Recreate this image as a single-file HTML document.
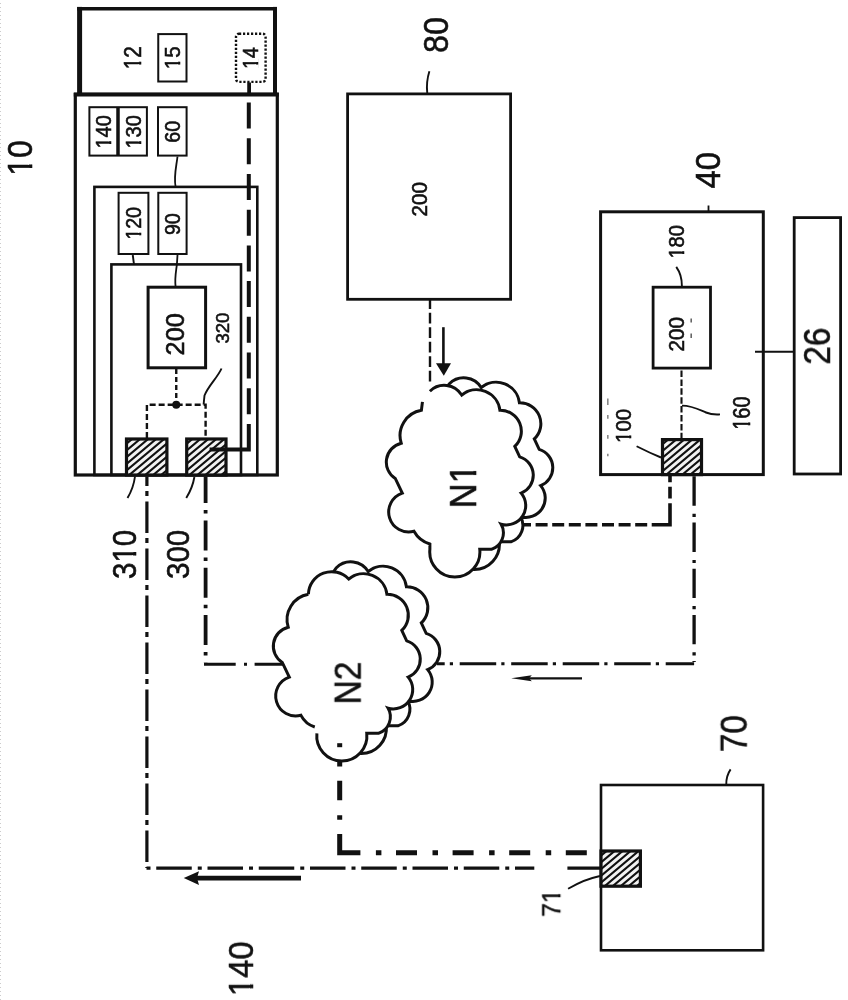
<!DOCTYPE html>
<html><head><meta charset="utf-8"><title>Diagram</title>
<style>html,body{margin:0;padding:0;background:#fff;width:848px;height:1000px;overflow:hidden}svg{display:block}</style>
</head><body>
<svg width="848" height="1000" viewBox="0 0 848 1000">
<rect width="848" height="1000" fill="#fff"/>
<line x1="0.5" y1="0" x2="0.5" y2="1000" stroke="#ccc" stroke-width="1" stroke-dasharray="1 3" stroke-dashoffset="-3"/>
<path d="M79.6 6.9V94.4" fill="none" stroke="#111" stroke-width="5" />
<path d="M77.2 8.75H277" fill="none" stroke="#111" stroke-width="3.7" />
<path d="M275 6.9V94.4" fill="none" stroke="#111" stroke-width="4" />
<rect x="75.3" y="94.4" width="202.00" height="380.60" fill="none" stroke="#111" stroke-width="3.2" />
<path d="M73.8 94.4H278.8" fill="none" stroke="#111" stroke-width="4" />
<rect x="158.25" y="34.1" width="28.25" height="47.40" fill="none" stroke="#111" stroke-width="2" />
<rect x="236" y="33.75" width="29.6" height="48.15" rx="3" fill="none" stroke="#111" stroke-width="2.4" stroke-dasharray="2.2 1.8"/>
<path d="M249.1 82.5V94.4" fill="none" stroke="#111" stroke-width="3.75" />
<rect x="89.4" y="107.2" width="57.50" height="48.40" fill="none" stroke="#111" stroke-width="2" />
<path d="M118 107.2V155.6" fill="none" stroke="#111" stroke-width="3.5" />
<rect x="158" y="107.2" width="28.60" height="48.40" fill="none" stroke="#111" stroke-width="2" />
<rect x="94.4" y="186.9" width="162.90" height="288.10" fill="none" stroke="#111" stroke-width="2.6" />
<rect x="111.4" y="264.4" width="129.60" height="210.60" fill="none" stroke="#111" stroke-width="2.6" />
<rect x="118.6" y="192.8" width="29.80" height="61.20" fill="none" stroke="#111" stroke-width="2" />
<rect x="158.3" y="192.8" width="28.30" height="61.20" fill="none" stroke="#111" stroke-width="2" />
<path d="M177.5 156.5C176.5 166 173.5 176 175.6 186.9" fill="none" stroke="#111" stroke-width="1.8" />
<path d="M132.75 255L134 264.4" fill="none" stroke="#111" stroke-width="1.9" />
<path d="M177.5 255L176.9 264.4C176 272 174.5 278 175.6 287" fill="none" stroke="#111" stroke-width="1.8" />
<rect x="148.1" y="287.2" width="57.50" height="80.60" fill="none" stroke="#111" stroke-width="3" />
<path d="M176.25 369V404" fill="none" stroke="#111" stroke-width="2.4" stroke-dasharray="5 3"/>
<circle cx="176.25" cy="404.75" r="4" fill="#111"/>
<path d="M146.9 438V404.75H205.6V438" fill="none" stroke="#111" stroke-width="2.4" stroke-dasharray="6 3"/>
<path d="M221.5 368.5C218 377 208 386 204.5 395.5L203.6 404.5" fill="none" stroke="#111" stroke-width="1.9" />
<clipPath id="c126_439"><rect x="126.5" y="439" width="40.400000000000006" height="36"/></clipPath>
<rect x="126.5" y="439" width="40.400000000000006" height="36" fill="#f2f2f2"/>
<path clip-path="url(#c126_439)" d="M78.83 477.00L126.50 437.00M86.83 477.00L134.50 437.00M94.83 477.00L142.50 437.00M102.83 477.00L150.50 437.00M110.83 477.00L158.50 437.00M118.83 477.00L166.50 437.00M126.83 477.00L174.50 437.00M134.83 477.00L182.50 437.00M142.83 477.00L190.50 437.00M150.83 477.00L198.50 437.00M158.83 477.00L206.50 437.00M166.83 477.00L214.50 437.00" stroke="#111" stroke-width="2.1"/>
<rect x="126.5" y="439" width="40.40" height="36.00" fill="none" stroke="#111" stroke-width="3.2" />
<clipPath id="c186_439"><rect x="186.7" y="439" width="39.30000000000001" height="36"/></clipPath>
<rect x="186.7" y="439" width="39.30000000000001" height="36" fill="#f2f2f2"/>
<path clip-path="url(#c186_439)" d="M139.03 477.00L186.70 437.00M147.03 477.00L194.70 437.00M155.03 477.00L202.70 437.00M163.03 477.00L210.70 437.00M171.03 477.00L218.70 437.00M179.03 477.00L226.70 437.00M187.03 477.00L234.70 437.00M195.03 477.00L242.70 437.00M203.03 477.00L250.70 437.00M211.03 477.00L258.70 437.00M219.03 477.00L266.70 437.00M227.03 477.00L274.70 437.00" stroke="#111" stroke-width="2.1"/>
<rect x="186.7" y="439" width="39.30" height="36.00" fill="none" stroke="#111" stroke-width="3.2" />
<path d="M248.8 102.5V424" fill="none" stroke="#111" stroke-width="4" stroke-dasharray="26 9.72"/>
<path d="M248.8 424V449.6H209.6" fill="none" stroke="#111" stroke-width="4" />
<path d="M135 476.5Q133.5 488 127.5 498" fill="none" stroke="#111" stroke-width="1.9" />
<path d="M194.4 477Q192.5 488 186.25 498" fill="none" stroke="#111" stroke-width="1.9" />
<path d="M146.9 476.5V868.1" fill="none" stroke="#111" stroke-width="3.2" stroke-dasharray="31.5 5 5 5.5" stroke-dashoffset="22"/>
<path d="M145.5 868.1H534.3" fill="none" stroke="#111" stroke-width="3.3" stroke-dasharray="35.5 6 4 5.75" stroke-dashoffset="40.5"/>
<path d="M567.4 868.1H601" fill="none" stroke="#111" stroke-width="3.3" />
<path d="M205.6 476.5V662.5" fill="none" stroke="#111" stroke-width="3.8" stroke-dasharray="30 7 3.5 6.8" stroke-dashoffset="3.4"/>
<path d="M204 664.3H283.5" fill="none" stroke="#111" stroke-width="3.0" stroke-dasharray="31.7 8.3 3 7.6"/>
<path d="M694.1 476.3V662" fill="none" stroke="#111" stroke-width="3.3" stroke-dasharray="29.4 8 3.2 5.6"/>
<path d="M694.1 663.8H437" fill="none" stroke="#111" stroke-width="3.1" stroke-dasharray="36.5 6.7 3.2 5.1" stroke-dashoffset="8.1"/>
<path d="M670 476V482.3M670 486.8V498.5M670 503.3V524.7H651.7" fill="none" stroke="#111" stroke-width="3.6" />
<path d="M647.2 524.7H522" fill="none" stroke="#111" stroke-width="3.4" stroke-dasharray="12 4.6"/>
<path d="M681.5 369V438" fill="none" stroke="#111" stroke-width="2.1" stroke-dasharray="6.5 2.4" stroke-dashoffset="-1.5"/>
<g fill="#111"><rect x="337.2" y="762" width="5" height="4.5"/><rect x="337.2" y="780.75" width="5" height="19.5"/><rect x="337.2" y="815.25" width="5" height="4.5"/></g>
<path d="M339.7 834V852.75H360" fill="none" stroke="#111" stroke-width="5" />
<path d="M360 852.75H588" fill="none" stroke="#111" stroke-width="5" stroke-dasharray="21 15.5 5.5 14.6" stroke-dashoffset="20.6"/>
<rect x="347.6" y="93.9" width="163.00" height="205.40" fill="none" stroke="#111" stroke-width="2.8" />
<path d="M430 299.3V383" fill="none" stroke="#111" stroke-width="2.4" stroke-dasharray="10.8 3.7" stroke-dashoffset="1"/>
<path d="M443.4 327.2V365" fill="none" stroke="#111" stroke-width="2.6" />
<path d="M436 363.2L451 363.2L443.8 375.8Z" fill="#111"/>
<path d="M429.4 71.25Q426 82 427.25 93" fill="none" stroke="#111" stroke-width="1.9" />
<rect x="600.6" y="211.8" width="162.70" height="262.80" fill="none" stroke="#111" stroke-width="3" />
<rect x="653.1" y="287.2" width="57.40" height="80.90" fill="none" stroke="#111" stroke-width="2.8" />
<clipPath id="c662_439"><rect x="662.5" y="439.6" width="39.0" height="35.0"/></clipPath>
<rect x="662.5" y="439.6" width="39.0" height="35.0" fill="#f2f2f2"/>
<path clip-path="url(#c662_439)" d="M616.02 476.60L662.50 437.60M624.02 476.60L670.50 437.60M632.02 476.60L678.50 437.60M640.02 476.60L686.50 437.60M648.02 476.60L694.50 437.60M656.02 476.60L702.50 437.60M664.02 476.60L710.50 437.60M672.02 476.60L718.50 437.60M680.02 476.60L726.50 437.60M688.02 476.60L734.50 437.60M696.02 476.60L742.50 437.60" stroke="#111" stroke-width="2.1"/>
<rect x="662.5" y="439.6" width="39.00" height="35.00" fill="none" stroke="#111" stroke-width="3.2" />
<rect x="794.2" y="217.6" width="46.40" height="256.40" fill="none" stroke="#111" stroke-width="2.8" />
<path d="M755 351.75H794" fill="none" stroke="#111" stroke-width="1.8" />
<path d="M708.5 205.5V211" fill="none" stroke="#111" stroke-width="1.8" />
<path d="M676.25 266.9Q682 275 681.9 286" fill="none" stroke="#111" stroke-width="1.9" />
<path d="M682 405.6C692 405.6 700 410 706 412.5C712 415 716 414.5 720 414.4" fill="none" stroke="#111" stroke-width="1.9" />
<path d="M636.6 446.25Q650 453 661 457.5" fill="none" stroke="#111" stroke-width="1.9" />
<path d="M691.2 318.5V322.5M691.2 333.5V338" stroke="#666" stroke-width="1.6" fill="none"/>
<path d="M607.8 398.5V405M607.8 415V418.8M607.8 435V438.8M607.8 453.8V456.3" stroke="#888" stroke-width="1.6" fill="none"/>
<rect x="601" y="785" width="162.10" height="165.30" fill="none" stroke="#111" stroke-width="2.6" />
<clipPath id="c601_851"><rect x="601" y="851" width="39.39999999999998" height="35.200000000000045"/></clipPath>
<rect x="601" y="851" width="39.39999999999998" height="35.200000000000045" fill="#f2f2f2"/>
<path clip-path="url(#c601_851)" d="M554.28 888.20L601.00 849.00M562.28 888.20L609.00 849.00M570.28 888.20L617.00 849.00M578.28 888.20L625.00 849.00M586.28 888.20L633.00 849.00M594.28 888.20L641.00 849.00M602.28 888.20L649.00 849.00M610.28 888.20L657.00 849.00M618.28 888.20L665.00 849.00M626.28 888.20L673.00 849.00M634.28 888.20L681.00 849.00M642.28 888.20L689.00 849.00" stroke="#111" stroke-width="2.1"/>
<rect x="601" y="851" width="39.40" height="35.20" fill="none" stroke="#111" stroke-width="3.2" />
<path d="M730.6 769.4Q726 776 726.25 785" fill="none" stroke="#111" stroke-width="1.9" />
<path d="M568.1 888.75Q585 879 600 876" fill="none" stroke="#111" stroke-width="1.9" />
<path d="M197 878.1H301" fill="none" stroke="#111" stroke-width="4.8" />
<path d="M183.75 878.1L199 871.3L197 878.1L199 884.9Z" fill="#111"/>
<path d="M528 678.3H582" fill="none" stroke="#111" stroke-width="2.2" />
<path d="M511.2 678.3L531.8 675.2L529 678.3L531.8 681.2Z" fill="#111"/>
<path d="M449.38 383.73A20.42 20.42 0 0 1 481.22 387.55A23.49 23.49 0 0 1 519.43 402.83A20.89 20.89 0 0 1 534.29 438.92L539.17 449.32A19.26 19.26 0 0 1 540.66 485.62A19.31 19.31 0 0 1 520.49 516.61A17.36 17.36 0 0 1 510.94 541.87L499.27 541.87A25.07 25.07 0 1 1 449.38 541.87L449.38 536.56A26.92 26.92 0 0 1 433.46 523.82A19.98 19.98 0 0 1 421.79 485.62L414.78 470.97A19.41 19.41 0 0 1 420.73 435.73A25.65 25.65 0 0 1 440.89 402.83L441.95 394.34Z" fill="#fff" stroke="#111" stroke-width="3.0"/>
<path d="M429.88 391.23A20.42 20.42 0 0 1 461.72 395.05A23.49 23.49 0 0 1 499.93 410.33A20.89 20.89 0 0 1 514.79 446.42L519.67 456.82A19.26 19.26 0 0 1 521.16 493.12A19.31 19.31 0 0 1 500.99 524.11A17.36 17.36 0 0 1 491.44 549.37L479.77 549.37A25.07 25.07 0 1 1 429.88 549.37L429.88 544.06A26.92 26.92 0 0 1 413.96 531.32A19.98 19.98 0 0 1 402.29 493.12L395.28 478.47A19.41 19.41 0 0 1 401.23 443.23A25.65 25.65 0 0 1 421.39 410.33L422.45 401.84Z" fill="#fff" stroke="none"/>
<path d="M429.88 391.23A20.42 20.42 0 0 1 461.72 395.05A23.49 23.49 0 0 1 499.93 410.33A20.89 20.89 0 0 1 514.79 446.42L519.67 456.82A19.26 19.26 0 0 1 521.16 493.12A19.31 19.31 0 0 1 500.99 524.11A17.36 17.36 0 0 1 491.44 549.37L479.77 549.37A25.07 25.07 0 1 1 429.88 549.37L429.88 544.06A26.92 26.92 0 0 1 413.96 531.32A19.98 19.98 0 0 1 402.29 493.12L395.28 478.47A19.41 19.41 0 0 1 401.23 443.23A25.65 25.65 0 0 1 421.39 410.33L422.45 401.84" fill="none" stroke="#111" stroke-width="3.0"/>
<path d="M336.38 567.73A20.42 20.42 0 0 1 368.22 571.55A23.49 23.49 0 0 1 406.43 586.83A20.89 20.89 0 0 1 421.29 622.92L426.17 633.32A19.26 19.26 0 0 1 427.66 669.62A19.31 19.31 0 0 1 407.49 700.61A17.36 17.36 0 0 1 397.94 725.87L386.27 725.87A25.07 25.07 0 1 1 336.38 725.87L336.38 720.56A26.92 26.92 0 0 1 320.46 707.82A19.98 19.98 0 0 1 308.79 669.62L301.78 654.97A19.41 19.41 0 0 1 307.73 619.73A25.65 25.65 0 0 1 327.89 586.83L328.95 578.34Z" fill="#fff" stroke="#111" stroke-width="3.0"/>
<path d="M308.39 594.33A23.33 23.33 0 0 1 348.72 579.05A23.49 23.49 0 0 1 386.93 594.33A20.89 20.89 0 0 1 401.79 630.42L406.67 640.82A19.26 19.26 0 0 1 408.16 677.12A19.31 19.31 0 0 1 387.99 708.11A17.36 17.36 0 0 1 378.44 733.37L366.77 733.37A25.07 25.07 0 1 1 316.88 733.37L314.76 727.00A23.87 23.87 0 0 1 300.96 715.32A19.98 19.98 0 0 1 289.29 677.12L282.28 662.47A19.41 19.41 0 0 1 288.23 627.23A25.65 25.65 0 0 1 308.39 594.33Z" fill="#fff" stroke="none"/>
<path d="M308.39 594.33A23.33 23.33 0 0 1 348.72 579.05A23.49 23.49 0 0 1 386.93 594.33A20.89 20.89 0 0 1 401.79 630.42L406.67 640.82A19.26 19.26 0 0 1 408.16 677.12A19.31 19.31 0 0 1 387.99 708.11A17.36 17.36 0 0 1 378.44 733.37L366.77 733.37A25.07 25.07 0 1 1 316.88 733.37M314.76 727.00A23.87 23.87 0 0 1 300.96 715.32A19.98 19.98 0 0 1 289.29 677.12L282.28 662.47A19.41 19.41 0 0 1 288.23 627.23A25.65 25.65 0 0 1 308.39 594.33" fill="none" stroke="#111" stroke-width="3.0"/>
<g fill="#111"><rect x="337.2" y="743.2" width="5" height="4"/></g>
<defs><clipPath id="k0" clipPathUnits="userSpaceOnUse"><path clip-rule="evenodd" d="M-500 -500H3000V500H-500ZM1.393 -4.383H9.494V1.654H1.393ZM14.158 -4.383H21.947V1.654H14.158Z"/></clipPath><clipPath id="k1" clipPathUnits="userSpaceOnUse"><path clip-rule="evenodd" d="M-500 -500H3000V500H-500ZM1.052 -5.069H9.223V1.995H1.052ZM14.430 -5.069H22.288V1.995H14.430Z"/></clipPath><clipPath id="k2" clipPathUnits="userSpaceOnUse"><path clip-rule="evenodd" d="M-500 -500H3000V500H-500ZM1.006 -5.222H9.197V2.041H1.006ZM14.455 -5.222H22.334V2.041H14.455Z"/></clipPath><clipPath id="k3" clipPathUnits="userSpaceOnUse"><path clip-rule="evenodd" d="M-500 -500H3000V500H-500ZM0.991 -5.201H9.176V2.056H0.991ZM14.476 -5.201H22.349V2.056H14.476Z"/></clipPath><clipPath id="k4" clipPathUnits="userSpaceOnUse"><path clip-rule="evenodd" d="M-500 -500H3000V500H-500ZM0.997 -5.208H9.184V2.050H0.997ZM14.468 -5.208H22.343V2.050H14.468Z"/></clipPath><clipPath id="k5" clipPathUnits="userSpaceOnUse"><path clip-rule="evenodd" d="M-500 -500H3000V500H-500ZM1.018 -5.131H9.195V2.029H1.018ZM14.457 -5.131H22.322V2.029H14.457Z"/></clipPath><clipPath id="k6" clipPathUnits="userSpaceOnUse"><path clip-rule="evenodd" d="M-500 -500H3000V500H-500ZM0.994 -5.183H9.177V2.053H0.994ZM14.476 -5.183H22.346V2.053H14.476Z"/></clipPath><clipPath id="k7" clipPathUnits="userSpaceOnUse"><path clip-rule="evenodd" d="M-500 -500H3000V500H-500ZM23.587 -4.488H31.698V1.706H23.587ZM36.446 -4.488H44.245V1.706H36.446Z"/></clipPath><clipPath id="k8" clipPathUnits="userSpaceOnUse"><path clip-rule="evenodd" d="M-500 -500H3000V500H-500ZM30.319 -4.317H38.415V1.614H30.319ZM43.011 -4.317H50.794V1.614H43.011Z"/></clipPath><clipPath id="k9" clipPathUnits="userSpaceOnUse"><path clip-rule="evenodd" d="M-500 -500H3000V500H-500ZM0.988 -5.239H9.180V2.058H0.988ZM14.472 -5.239H22.351V2.058H14.472Z"/></clipPath><clipPath id="k10" clipPathUnits="userSpaceOnUse"><path clip-rule="evenodd" d="M-500 -500H3000V500H-500ZM1.026 -5.103H9.199V2.021H1.026ZM14.453 -5.103H22.314V2.021H14.453Z"/></clipPath><clipPath id="k11" clipPathUnits="userSpaceOnUse"><path clip-rule="evenodd" d="M-500 -500H3000V500H-500ZM1.016 -5.172H9.200V2.031H1.016ZM14.452 -5.172H22.324V2.031H14.452Z"/></clipPath><clipPath id="k12" clipPathUnits="userSpaceOnUse"><path clip-rule="evenodd" d="M-500 -500H3000V500H-500ZM23.425 -4.848H31.577V1.868H23.425ZM36.568 -4.848H44.407V1.868H36.568Z"/></clipPath><clipPath id="k13" clipPathUnits="userSpaceOnUse"><path clip-rule="evenodd" d="M-500 -500H3000V500H-500ZM1.404 -4.363H9.504V1.643H1.404ZM14.149 -4.363H21.936V1.643H14.149Z"/></clipPath></defs>
<g fill="#111" stroke="#111" font-family="Liberation Sans, sans-serif" style="will-change:transform">
<text transform="translate(31.78 175.70) rotate(-90) scale(0.7996 0.8845)" font-size="40.0" stroke-width="0.654" clip-path="url(#k0)">10</text>
<text transform="translate(141.03 69.23) rotate(-90) scale(0.5203 0.5872)" font-size="40.0" stroke-width="0.995" clip-path="url(#k1)">12</text>
<text transform="translate(180.16 69.21) rotate(-90) scale(0.5158 0.5410)" font-size="40.0" stroke-width="1.041" clip-path="url(#k2)">15</text>
<text transform="translate(257.62 69.12) rotate(-90) scale(0.4927 0.5505)" font-size="40.0" stroke-width="1.056" clip-path="url(#k3)">14</text>
<text transform="translate(111.16 148.55) rotate(-90) scale(0.5014 0.5473)" font-size="40.0" stroke-width="1.050" clip-path="url(#k4)">140</text>
<text transform="translate(140.80 148.55) rotate(-90) scale(0.5014 0.5703)" font-size="40.0" stroke-width="1.029" clip-path="url(#k5)">130</text>
<text transform="translate(179.91 142.63) rotate(-90) scale(0.4927 0.5385)" font-size="40.0" stroke-width="1.068">60</text>
<text transform="translate(140.81 239.76) rotate(-90) scale(0.4908 0.5561)" font-size="40.0" stroke-width="1.053" clip-path="url(#k6)">120</text>
<text transform="translate(179.91 235.05) rotate(-90) scale(0.4908 0.5473)" font-size="40.0" stroke-width="1.061">90</text>
<text transform="translate(184.47 355.40) rotate(-90) scale(0.6356 0.6656)" font-size="40.0" stroke-width="0.846">200</text>
<text transform="translate(228.94 343.58) rotate(-90) scale(0.4635 0.4679)" font-size="40.0" stroke-width="1.181">320</text>
<text transform="translate(135.70 579.00) rotate(-90) scale(0.7384 0.8210)" font-size="40.0" stroke-width="0.706" clip-path="url(#k7)">310</text>
<text transform="translate(188.82 579.00) rotate(-90) scale(0.7384 0.7768)" font-size="40.0" stroke-width="0.726">300</text>
<text transform="translate(447.53 53.03) rotate(-90) scale(0.8072 0.8863)" font-size="40.0" stroke-width="0.650">80</text>
<text transform="translate(426.81 216.41) rotate(-90) scale(0.5161 0.5561)" font-size="40.0" stroke-width="1.027">200</text>
<text transform="translate(476.38 508.21) rotate(-90) scale(0.8648 0.9266)" font-size="40.0" stroke-width="0.614" clip-path="url(#k8)">N1</text>
<text transform="translate(719.98 188.58) rotate(-90) scale(0.8224 0.8810)" font-size="40.0" stroke-width="0.646">40</text>
<text transform="translate(683.91 258.55) rotate(-90) scale(0.5014 0.5385)" font-size="40.0" stroke-width="1.058" clip-path="url(#k9)">180</text>
<text transform="translate(683.91 351.41) rotate(-90) scale(0.5161 0.5385)" font-size="40.0" stroke-width="1.043">200</text>
<text transform="translate(750.15 429.80) rotate(-90) scale(0.5014 0.5791)" font-size="40.0" stroke-width="1.021" clip-path="url(#k10)">160</text>
<text transform="translate(631.16 442.99) rotate(-90) scale(0.5120 0.5561)" font-size="40.0" stroke-width="1.031" clip-path="url(#k11)">100</text>
<text transform="translate(829.52 364.55) rotate(-90) scale(0.8325 0.9092)" font-size="40.0" stroke-width="0.632">26</text>
<text transform="translate(361.12 704.36) rotate(-90) scale(0.8344 0.9041)" font-size="40.0" stroke-width="0.633">N2</text>
<text transform="translate(746.27 752.08) rotate(-90) scale(0.8293 0.9092)" font-size="40.0" stroke-width="0.633">70</text>
<text transform="translate(560.12 916.63) rotate(-90) scale(0.6141 0.6541)" font-size="40.0" stroke-width="0.868" clip-path="url(#k12)">71</text>
<text transform="translate(253.17 996.02) rotate(-90) scale(0.8169 0.8969)" font-size="40.0" stroke-width="0.643" clip-path="url(#k13)">140</text>
</g>
</svg>
</body></html>
